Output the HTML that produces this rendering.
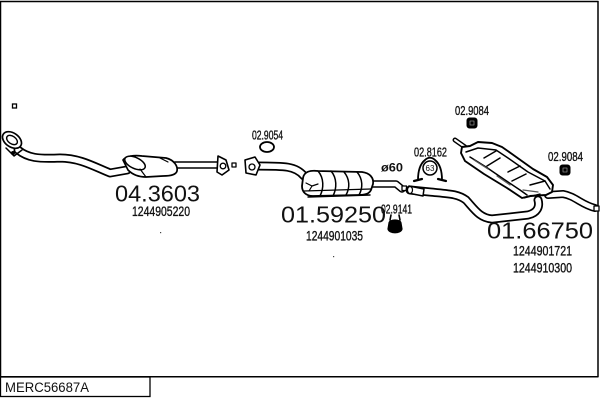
<!DOCTYPE html>
<html>
<head>
<meta charset="utf-8">
<style>
html,body{margin:0;padding:0;background:#fff;}
svg{display:block;}
text{font-family:"Liberation Sans",Arial,sans-serif;fill:#111;}
.lb{stroke:#111;stroke-width:0.35;}
</style>
</head>
<body>
<svg width="600" height="400" viewBox="0 0 600 400" xmlns="http://www.w3.org/2000/svg">
<!-- frame -->
<line x1="0.5" y1="1" x2="0.5" y2="397" stroke="#000" stroke-width="1.5"/>
<line x1="0" y1="1.5" x2="598.5" y2="1.5" stroke="#000" stroke-width="1.5"/>
<line x1="598" y1="1" x2="598" y2="377" stroke="#000" stroke-width="1.5"/>
<line x1="0" y1="376.8" x2="598.5" y2="376.8" stroke="#000" stroke-width="1.5"/>
<rect x="0.5" y="377" width="149.5" height="19.5" fill="#fff" stroke="#000" stroke-width="1.3"/>
<text x="5" y="392" font-size="13.5" textLength="84" lengthAdjust="spacingAndGlyphs">MERC56687A</text>

<!-- small square -->
<rect x="12.5" y="104" width="4" height="4" fill="#fff" stroke="#000" stroke-width="1.3"/>

<g stroke="#000" stroke-linejoin="round" stroke-linecap="round">
<!-- downpipe -->
<path d="M18,150 C28,158 38,159 60,158 C80,158 95,167 110,173 L127,170" fill="none" stroke-width="9"/>
<path d="M18,150 C28,158 38,159 60,158 C80,158 95,167 110,173 L127,170" fill="none" stroke="#fff" stroke-width="5.5"/>
<ellipse cx="12" cy="140" rx="10.5" ry="7" transform="rotate(35 12 140)" fill="#fff" stroke-width="1.7"/>
<ellipse cx="12" cy="140" rx="6" ry="3.8" transform="rotate(35 12 140)" fill="#fff" stroke-width="1.4"/>
<path d="M6,148 L14,156 L22,150" fill="none" stroke-width="1.5"/>
<circle cx="13" cy="153" r="1.5" fill="#000"/>

<!-- cat converter -->
<path d="M175,165 L217,165" fill="none" stroke-width="7.5"/>
<path d="M175,165 L217,165" fill="none" stroke="#fff" stroke-width="4.5"/>
<path d="M123,160 C126,156 134,155 142,156 L166,158 C174,160 178,166 177,171 C176,175 170,176 163,176 L146,177 C138,177 132,174 128,170 Z" fill="#fff" stroke-width="1.7"/>
<ellipse cx="135" cy="163" rx="11" ry="5.5" transform="rotate(25 135 163)" fill="#fff" stroke-width="1.5"/>
<path d="M140,169 L146,177" fill="none" stroke-width="1.2"/>
<path d="M160,158 L168,162" fill="none" stroke-width="1.2"/>
<!-- flange 1 -->
<path d="M218,156 L226,160 L229,170 L222,175 L217,172 Z" fill="#fff" stroke-width="1.6"/>
<circle cx="223" cy="166" r="2.8" fill="#fff" stroke-width="1.3"/>
<rect x="232" y="163" width="4" height="4" fill="#fff" stroke-width="1.3"/>

<!-- middle pipe -->
<path d="M256,166 C285,166 296,166 304,176" fill="none" stroke-width="9"/>
<path d="M256,166 C285,166 296,166 304,176" fill="none" stroke="#fff" stroke-width="5.5"/>
<!-- flange 2 -->
<path d="M245,160 L255,157 L260,165 L256,175 L246,173 Z" fill="#fff" stroke-width="1.6"/>
<circle cx="252" cy="167" r="3" fill="#fff" stroke-width="1.3"/>
<!-- ring 02.9054 -->
<ellipse cx="267" cy="147" rx="7" ry="5" fill="#fff" stroke-width="1.8"/>

<!-- middle muffler outlet -->
<path d="M370,184 L396,184 L402,189" fill="none" stroke-width="7.5"/>
<path d="M370,184 L396,184 L402,189" fill="none" stroke="#fff" stroke-width="4.5"/>
<rect x="402" y="186" width="4.5" height="4.5" fill="#fff" stroke-width="1.3"/>
<!-- middle muffler -->
<path d="M303,178 C304,172 310,170 318,171 L362,172 C370,173 374,178 373,184 L371,190 C369,194 365,195 358,195 L313,196 C306,196 302,192 302,186 Z" fill="#fff" stroke-width="1.8"/>
<path d="M318,171 C324,178 324,188 320,196 M331,171 C337,178 337,188 333,196 M344,172 C350,179 350,188 346,195 M357,172 C363,179 363,188 359,195" fill="none" stroke-width="1.5"/>
<path d="M304,191 L371,189" fill="none" stroke-width="1.2"/>
<path d="M308,197 L370,195" fill="none" stroke-width="1.4"/>
<path d="M306,183 L312,186 L309,191 M312,186 L318,184" fill="none" stroke-width="1.2"/>

<!-- clamp 02.8162 -->
<path d="M418,180 C418,172 420,164 425,160 C428,157 432,157 435,160 C440,164 442,172 442,180" fill="#fff" stroke-width="1.8"/>
<path d="M414,181 L422,179 M438,179 L446,181" fill="none" stroke-width="2.2"/>
<circle cx="430" cy="168" r="7" fill="#fff" stroke-width="1.5"/>
<text x="430" y="171" font-size="8" text-anchor="middle" stroke="none">63</text>

<!-- clamp 02.9141 -->
<path d="M389,223 C389,219 401,219 401,223 L402,229 C401,234 389,234 388,229 Z" fill="#000" stroke-width="1.2"/>
<path d="M390,220 L391,215 M400,220 L399,215" fill="none" stroke-width="1.6"/>

<!-- rear pipe -->
<path d="M410,190 L430,192 C450,194 458,194 466,200 C475,210 480,218 492,219 L528,215 C537,213 540,207 538,200" fill="none" stroke-width="9"/>
<path d="M410,190 L430,192 C450,194 458,194 466,200 C475,210 480,218 492,219 L528,215 C537,213 540,207 538,200" fill="none" stroke="#fff" stroke-width="5.5"/>
<path d="M409,186 L424,189 L423,196 L408,193 Z" fill="#fff" stroke-width="1.5"/>
<ellipse cx="410" cy="190" rx="2.5" ry="3.5" fill="#fff" stroke-width="1.2"/>

<!-- tail pipe -->
<path d="M548,195 L563,194 C575,196 582,205 595,208" fill="none" stroke-width="8"/>
<path d="M548,195 L563,194 C575,196 582,205 595,208" fill="none" stroke="#fff" stroke-width="4.8"/>
<rect x="594" y="206" width="5" height="5" fill="#fff" stroke-width="1.3"/>

<!-- rear muffler -->
<path d="M455,140 L465,147" fill="none" stroke-width="5"/>
<path d="M455,140 L465,147" fill="none" stroke="#fff" stroke-width="2"/>
<path d="M462,147 L470,146 L478,142 L492,143 L502,147 L512,154 L533,169 L547,177 L553,185 L552,192 L546,195 L530,196 L522,198 L507,188 L484,174 L465,161 L461,153 Z" fill="#fff" stroke-width="1.9"/>
<path d="M466,152 L478,148 L496,150 L508,158 L528,172 L545,181 L550,189" fill="none" stroke-width="1.5"/>
<path d="M470,157 L486,167 L505,180 L520,190 L527,195" fill="none" stroke-width="1.5"/>
<path d="M484,158 L496,151 M487,166 L500,158 M508,172 L520,166 M512,181 L526,174 M530,185 L545,181" fill="none" stroke-width="1.5"/>
<path d="M474,160 L488,169 M497,176 L510,185 M523,190 L538,192" fill="none" stroke-width="1.2" stroke="#555"/>
<path d="M524,198 L540,194" fill="none" stroke-width="1.3"/>

<!-- nuts 02.9084 -->
<rect x="467" y="118" width="10" height="10" rx="2.5" fill="#000" stroke-width="1"/>
<rect x="470" y="121" width="4" height="4" fill="none" stroke="#888" stroke-width="0.8"/>
<rect x="560" y="165" width="10" height="10" rx="2.5" fill="#000" stroke-width="1"/>
<rect x="563" y="168" width="4" height="4" fill="none" stroke="#888" stroke-width="0.8"/>
</g>

<!-- labels -->
<text x="115" y="201.5" font-size="23" textLength="85" lengthAdjust="spacingAndGlyphs">04.3603</text>
<text class="lb" x="132" y="216" font-size="14" textLength="58" lengthAdjust="spacingAndGlyphs">1244905220</text>
<rect x="160" y="232" width="1.2" height="1.2" fill="#444"/>

<text class="lb" x="252" y="139.5" font-size="12.5" textLength="31" lengthAdjust="spacingAndGlyphs">02.9054</text>
<text x="381" y="171.5" font-size="12" font-weight="bold" textLength="22" lengthAdjust="spacingAndGlyphs">ø60</text>
<text class="lb" x="414" y="156.5" font-size="13" textLength="33" lengthAdjust="spacingAndGlyphs">02.8162</text>

<text x="281" y="222.5" font-size="23" textLength="105" lengthAdjust="spacingAndGlyphs">01.59250</text>
<text class="lb" x="381" y="213.5" font-size="13" textLength="31" lengthAdjust="spacingAndGlyphs">02.9141</text>
<text class="lb" x="306" y="240.5" font-size="13.5" textLength="57" lengthAdjust="spacingAndGlyphs">1244901035</text>
<rect x="333" y="256" width="1.2" height="1.2" fill="#444"/>

<text class="lb" x="455" y="115" font-size="13" textLength="34" lengthAdjust="spacingAndGlyphs">02.9084</text>
<text class="lb" x="548" y="161" font-size="13" textLength="35" lengthAdjust="spacingAndGlyphs">02.9084</text>

<text x="487" y="238.5" font-size="23" textLength="106" lengthAdjust="spacingAndGlyphs">01.66750</text>
<text class="lb" x="513" y="255.5" font-size="13.5" textLength="59" lengthAdjust="spacingAndGlyphs">1244901721</text>
<text class="lb" x="513" y="272.5" font-size="13.5" textLength="59" lengthAdjust="spacingAndGlyphs">1244910300</text>
</svg>
</body>
</html>
